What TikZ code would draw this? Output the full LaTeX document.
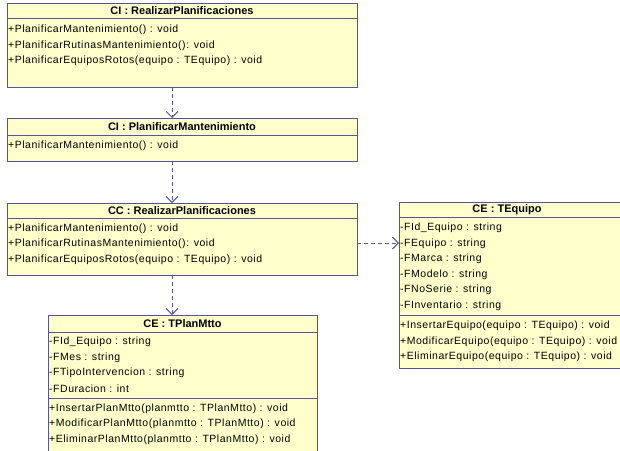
\documentclass[tikz,border=0pt]{standalone}
\usepackage{fontspec}
\setmainfont{Liberation Sans}
\newfontfamily\umlfont[LetterSpace=5]{Liberation Sans}
\usetikzlibrary{arrows.meta}
\definecolor{umlfill}{RGB}{255,255,204}
\definecolor{umlline}{RGB}{84,84,156}
\begin{document}
\begin{tikzpicture}[x=1pt,y=-1pt,
  classbox/.style={draw=umlline, fill=umlfill, line width=1pt, anchor=north west,
                   inner sep=0pt, outer sep=0pt},
  sep/.style={draw=umlline, line width=1pt},
  ttl/.style={font=\fontsize{11}{12}\selectfont\bfseries, inner sep=0pt},
  txt/.style={font=\umlfont\fontsize{10.5}{11}\selectfont, anchor=west, inner sep=0pt},
  dep/.style={draw=umlline, line width=0.9pt, dash pattern=on 4pt off 3pt,
              -{Straight Barb[length=6pt,width=12pt,line width=0.9pt]}}
]
\useasboundingbox (0,0) rectangle (620,450);
\clip (0,0) rectangle (620,450);

% CI : RealizarPlanificaciones
\node[classbox, minimum width=350pt, minimum height=84pt] (ciRP) at (7,3) {};
\draw[sep] (7,18) -- (357,18);
\node[ttl] (ciRPt) at (182,10.5) {CI : RealizarPlanificaciones};
\node[txt] (ciRP1) at (8,30) {+PlanificarMantenimiento() : void};
\node[txt] (ciRP2) at (8,45.5) {+PlanificarRutinasMantenimiento(): void};
\node[txt] (ciRP3) at (8,61) {+PlanificarEquiposRotos(equipo : TEquipo) : void};

% CI : PlanificarMantenimiento
\node[classbox, minimum width=350pt, minimum height=43pt] (ciPM) at (7,118) {};
\draw[sep] (7,135) -- (357,135);
\node[ttl] (ciPMt) at (182,126.5) {CI : PlanificarMantenimiento};
\node[txt] (ciPM1) at (8,146) {+PlanificarMantenimiento() : void};

% CC : RealizarPlanificaciones
\node[classbox, minimum width=350pt, minimum height=72pt] (ccRP) at (7,203) {};
\draw[sep] (7,218) -- (357,218);
\node[ttl] (ccRPt) at (182,210.5) {CC : RealizarPlanificaciones};
\node[txt] (ccRP1) at (8,228.5) {+PlanificarMantenimiento() : void};
\node[txt] (ccRP2) at (8,244) {+PlanificarRutinasMantenimiento(): void};
\node[txt] (ccRP3) at (8,259.5) {+PlanificarEquiposRotos(equipo : TEquipo) : void};

% CE : TEquipo
\node[classbox, minimum width=230pt, minimum height=166pt] (ceTE) at (399,202) {};
\draw[sep] (399,217) -- (629,217);
\draw[sep] (399,315) -- (629,315);
\node[ttl] (ceTEt) at (507,209.5) {CE : TEquipo};
\node[txt] (ceTEa1) at (400,228) {-FId\_Equipo : string};
\node[txt] (ceTEa2) at (400,243.5) {-FEquipo : string};
\node[txt] (ceTEa3) at (400,259) {-FMarca : string};
\node[txt] (ceTEa4) at (400,274.5) {-FModelo : string};
\node[txt] (ceTEa5) at (400,290) {-FNoSerie : string};
\node[txt] (ceTEa6) at (400,305.5) {-FInventario : string};
\node[txt] (ceTEo1) at (400,326) {+InsertarEquipo(equipo : TEquipo) : void};
\node[txt] (ceTEo2) at (400,341.5) {+ModificarEquipo(equipo : TEquipo) : void};
\node[txt] (ceTEo3) at (400,357) {+EliminarEquipo(equipo : TEquipo) : void};

% CE : TPlanMtto
\node[classbox, minimum width=269pt, minimum height=145pt] (cePM) at (48,315) {};
\draw[sep] (48,332) -- (317,332);
\draw[sep] (48,398) -- (317,398);
\node[ttl] (cePMt) at (182.5,323.5) {CE : TPlanMtto};
\node[txt] (cePMa1) at (49,342) {-FId\_Equipo : string};
\node[txt] (cePMa2) at (49,357.5) {-FMes : string};
\node[txt] (cePMa3) at (49,373) {-FTipoIntervencion : string};
\node[txt] (cePMa4) at (49,388.5) {-FDuracion : int};
\node[txt] (cePMo1) at (49,408.5) {+InsertarPlanMtto(planmtto : TPlanMtto) : void};
\node[txt] (cePMo2) at (49,424) {+ModificarPlanMtto(planmtto : TPlanMtto) : void};
\node[txt] (cePMo3) at (49,439.5) {+EliminarPlanMtto(planmtto : TPlanMtto) : void};

% dependencies
\draw[dep] ([xshift=-10pt]ciRP.south) -- ([xshift=-10pt]ciPM.north);
\draw[dep] ([xshift=-10pt]ciPM.south) -- ([xshift=-10pt]ccRP.north);
\draw[dep] ([xshift=-10pt]ccRP.south) -- (cePM.north -| 172,0);
\draw[dep] ([yshift=-4pt]ccRP.east) -- (ceTE.west |- 0,243);
\end{tikzpicture}
\end{document}
